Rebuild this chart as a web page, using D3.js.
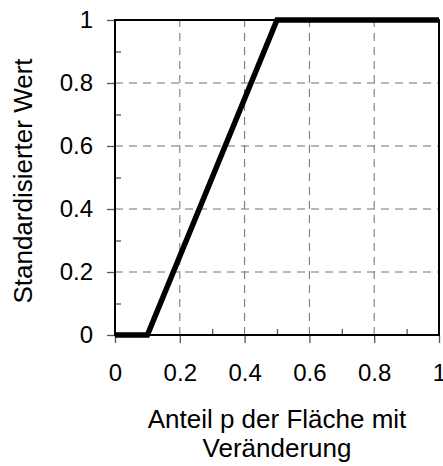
<!DOCTYPE html>
<html>
<head>
<meta charset="utf-8">
<script src="https://cdn.jsdelivr.net/npm/d3@7"></script>
<style>
body { margin: 0; background: #fff; }
svg text { font-family: "Liberation Sans", Arial, sans-serif; fill: #000; }
</style>
</head>
<body>
<div id="chart"></div>
<script>
// data
const pValues = [0, 0.1, 0.5, 1];
const stdValues = [0, 0, 1, 1];
const majorTicks = [0, 0.2, 0.4, 0.6, 0.8, 1];
const minorTicks = [0.1, 0.3, 0.5, 0.7, 0.9];
const xLabelLines = ['Anteil p der Fläche mit', 'Veränderung'];
const yLabel = 'Standardisierter Wert';

const width = 443, height = 466;
const margin = {top: 20, right: 4, bottom: 131, left: 115};

const svg = d3.select('#chart').append('svg')
  .attr('width', width)
  .attr('height', height);

let x = d3.scaleLinear().domain([0, 1]).range([margin.left, width - margin.right]);
let y = d3.scaleLinear().domain([0, 1]).range([height - margin.bottom, margin.top]);

const fmt = d => d === 0 || d === 1 ? String(d) : d.toFixed(1);

// dashed grid
svg.append('g')
  .selectAll('line')
  .data(majorTicks.filter(d => d > 0 && d < 1))
  .enter().append('line')
  .attr('x1', d => x(d)).attr('x2', d => x(d))
  .attr('y1', y(0)).attr('y2', y(1))
  .attr('stroke', '#707070').attr('stroke-dasharray', '8,6');

svg.append('g')
  .selectAll('line')
  .data(majorTicks.filter(d => d > 0 && d < 1))
  .enter().append('line')
  .attr('x1', x(0)).attr('x2', x(1))
  .attr('y1', d => y(d)).attr('y2', d => y(d))
  .attr('stroke', '#707070').attr('stroke-dasharray', '8,6');

// major ticks outside, minor ticks inside
const xAxis = svg.append('g')
  .attr('transform', 'translate(0,' + y(0) + ')')
  .call(d3.axisBottom(x).tickValues(majorTicks).tickFormat(fmt).tickSize(8).tickPadding(21));
xAxis.select('.domain').remove();
xAxis.selectAll('.tick line').attr('stroke', '#555').attr('stroke-width', 1.3);
xAxis.selectAll('.tick text').style('font-size', '24px');

const xMinor = svg.append('g')
  .attr('transform', 'translate(0,' + y(0) + ')')
  .call(d3.axisTop(x).tickValues(minorTicks).tickFormat('').tickSize(6));
xMinor.select('.domain').remove();
xMinor.selectAll('.tick line').attr('stroke', '#555').attr('stroke-width', 1.3);

const yAxis = svg.append('g')
  .attr('transform', 'translate(' + x(0) + ',0)')
  .call(d3.axisLeft(y).tickValues(majorTicks).tickFormat(fmt).tickSize(8).tickPadding(14));
yAxis.select('.domain').remove();
yAxis.selectAll('.tick line').attr('stroke', '#555').attr('stroke-width', 1.3);
yAxis.selectAll('.tick text').style('font-size', '24px');

const yMinor = svg.append('g')
  .attr('transform', 'translate(' + x(0) + ',0)')
  .call(d3.axisRight(y).tickValues(minorTicks).tickFormat('').tickSize(6));
yMinor.select('.domain').remove();
yMinor.selectAll('.tick line').attr('stroke', '#555').attr('stroke-width', 1.3);

// frame
svg.append('rect')
  .attr('x', x(0)).attr('y', y(1))
  .attr('width', x(1) - x(0)).attr('height', y(0) - y(1))
  .attr('fill', 'none').attr('stroke', '#000').attr('stroke-width', 2);

// the curve
const line = d3.line().x(d => x(d[0])).y(d => y(d[1]));
svg.append('path')
  .datum(pValues.map((p, i) => [p, stdValues[i]]))
  .attr('d', line)
  .attr('fill', 'none')
  .attr('stroke', '#000')
  .attr('stroke-width', 5.5);

// axis titles
svg.append('text')
  .attr('text-anchor', 'middle')
  .style('font-size', '26px')
  .selectAll('tspan')
  .data(xLabelLines)
  .enter().append('tspan')
  .attr('x', (x(0) + x(1)) / 2)
  .attr('y', (d, i) => 428 + i * 29)
  .text(d => d);

svg.append('text')
  .attr('transform', 'translate(32,181) rotate(-90)')
  .attr('text-anchor', 'middle')
  .style('font-size', '26px')
  .text(yLabel);
</script>
</body>
</html>
